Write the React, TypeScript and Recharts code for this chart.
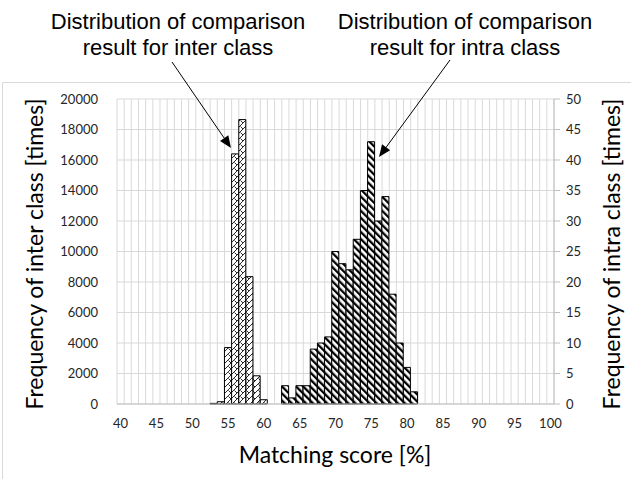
import React from "react";
import {
  ComposedChart,
  Bar,
  XAxis,
  YAxis,
  CartesianGrid,
} from "recharts";

// Matching score categories (%)
const scores = [
  40, 41, 42, 43, 44, 45, 46, 47, 48, 49, 50, 51, 52, 53, 54, 55, 56, 57, 58, 59,
  60, 61, 62, 63, 64, 65, 66, 67, 68, 69, 70, 71, 72, 73, 74, 75, 76, 77, 78, 79,
  80, 81, 82, 83, 84, 85, 86, 87, 88, 89, 90, 91, 92, 93, 94, 95, 96, 97, 98, 99, 100,
];

// Inter class histogram (left axis, times)
const interBins = [53, 54, 55, 56, 57, 58, 59, 60];
const interCounts = [40, 150, 3700, 16400, 18650, 8350, 1850, 280];

// Intra class histogram (right axis, times)
const intraBins = [63, 64, 65, 66, 67, 68, 69, 70, 71, 72, 73, 74, 75, 76, 77, 78, 79, 80, 81];
const intraCounts = [3, 1, 3, 3, 9, 10, 11, 25, 23, 22, 27, 35, 43, 30, 34, 18, 10, 6, 2];

const xTicks = [40, 45, 50, 55, 60, 65, 70, 75, 80, 85, 90, 95, 100];
const leftTicks = [0, 2000, 4000, 6000, 8000, 10000, 12000, 14000, 16000, 18000, 20000];
const rightTicks = [0, 5, 10, 15, 20, 25, 30, 35, 40, 45, 50];

const data = scores.map((s) => {
  const i = interBins.indexOf(s);
  const j = intraBins.indexOf(s);
  return {
    score: s,
    inter: i >= 0 ? interCounts[i] : null,
    intra: j >= 0 ? intraCounts[j] : null,
  };
});

const W = 631;
const H = 479;
const tickFont = { fontFamily: "Lato", fontSize: 13, fill: "#262626" };
const titleFont = "Lato";
const annFont = "'Liberation Sans', Arial, sans-serif";

function arrowHead(x1: number, y1: number, x2: number, y2: number, len = 12, half = 5) {
  const dx = x2 - x1;
  const dy = y2 - y1;
  const d = Math.sqrt(dx * dx + dy * dy);
  const ux = dx / d;
  const uy = dy / d;
  const bx = x2 - ux * len;
  const by = y2 - uy * len;
  const px = -uy * half;
  const py = ux * half;
  return `${x2},${y2} ${bx + px},${by + py} ${bx - px},${by - py}`;
}

function Arrow({ x1, y1, x2, y2 }: { x1: number; y1: number; x2: number; y2: number }) {
  const d = Math.sqrt((x2 - x1) ** 2 + (y2 - y1) ** 2);
  const ex = x2 - ((x2 - x1) / d) * 10;
  const ey = y2 - ((y2 - y1) / d) * 10;
  return (
    <g>
      <line x1={x1} y1={y1} x2={ex} y2={ey} stroke="#000" strokeWidth={1} />
      <polygon points={arrowHead(x1, y1, x2, y2)} fill="#000" />
    </g>
  );
}

export default function App() {
  return (
    <div
      style={{
        position: "absolute",
        left: 0,
        top: 0,
        width: W,
        height: H,
        background: "#fff",
      }}
    >
      <ComposedChart
        width={W}
        height={H}
        data={data}
        margin={{ top: 99, right: 0, bottom: 45, left: 0 }}
        barCategoryGap={0}
        barGap="-100%"
      >
        <defs>
          <pattern
            id="intraPat"
            patternUnits="userSpaceOnUse"
            width={5}
            height={5}
            patternTransform="rotate(-45)"
          >
            <rect x={0} y={0} width={5} height={5} fill="#fff" />
            <rect x={0} y={0} width={2.3} height={5} fill="#000" />
          </pattern>
          <pattern id="interPat" patternUnits="userSpaceOnUse" width={6} height={6}>
            <rect x={0} y={0} width={6} height={6} fill="#fff" />
            <path d="M0,6 L6,0 M-1,1 L1,-1 M5,7 L7,5" stroke="#111" strokeWidth={0.9} />
            <path d="M0.5,0.5 L3,3" stroke="#111" strokeWidth={0.9} />
          </pattern>
        </defs>
        <CartesianGrid
          yAxisId="left"
          stroke="#d9d9d9"
          strokeWidth={1}
          verticalCoordinatesGenerator={({ offset }: any) =>
            scores.concat([0]).map((_, i) => offset.left + (i * offset.width) / scores.length)
          }
        />
        <XAxis
          dataKey="score"
          type="category"
          ticks={xTicks}
          interval={0}
          axisLine={{ stroke: "#bfbfbf" }}
          tickLine={false}
          tickSize={6}
          tickMargin={9}
          height={30}
          tick={tickFont}
        />
        <YAxis
          yAxisId="left"
          orientation="left"
          domain={[0, 20000]}
          ticks={leftTicks}
          interval={0}
          width={117}
          axisLine={false}
          tickLine={false}
          tickSize={8}
          tickMargin={11}
          tick={tickFont}
        />
        <YAxis
          yAxisId="right"
          orientation="right"
          domain={[0, 50]}
          ticks={rightTicks}
          interval={0}
          width={77}
          axisLine={{ stroke: "#bfbfbf" }}
          tickLine={{ stroke: "#bfbfbf" }}
          tickSize={6}
          tickMargin={6}
          tick={{ ...tickFont, textAnchor: "start" }}
        />
        <Bar
          dataKey="inter"
          yAxisId="left"
          fill="url(#interPat)"
          stroke="#000"
          strokeWidth={1}
          isAnimationActive={false}
        />
        <Bar
          dataKey="intra"
          yAxisId="right"
          fill="url(#intraPat)"
          stroke="#000"
          strokeWidth={1}
          isAnimationActive={false}
        />
      </ComposedChart>
      <svg
        width={W}
        height={H}
        style={{ position: "absolute", left: 0, top: 0, pointerEvents: "none" }}
      >
        <line x1={2.5} y1={82.5} x2={W} y2={82.5} stroke="#d9d9d9" />
        <line x1={2.5} y1={82.5} x2={2.5} y2={H} stroke="#d9d9d9" />
        <g fontFamily={annFont} fontSize={22} fill="#000" textAnchor="middle">
          <text x={178} y={29}>Distribution of comparison</text>
          <text x={178} y={55}>result for inter class</text>
          <text x={465} y={29}>Distribution of comparison</text>
          <text x={465} y={55}>result for intra class</text>
        </g>
        <Arrow x1={172} y1={62} x2={231} y2={148} />
        <Arrow x1={450} y1={60} x2={379} y2={157} />
        <g fontFamily={titleFont} fontSize={23} fill="#000" textAnchor="middle">
          <text
            x={34}
            y={254}
            dominantBaseline="central"
            transform="rotate(-90 34 254)"
          >
            Frequency of inter class [times]
          </text>
          <text
            x={611}
            y={254}
            dominantBaseline="central"
            transform="rotate(-90 611 254)"
          >
            Frequency of intra class [times]
          </text>
          <text x={335} y={454} dominantBaseline="central">
            Matching score [%]
          </text>
        </g>
      </svg>
    </div>
  );
}
